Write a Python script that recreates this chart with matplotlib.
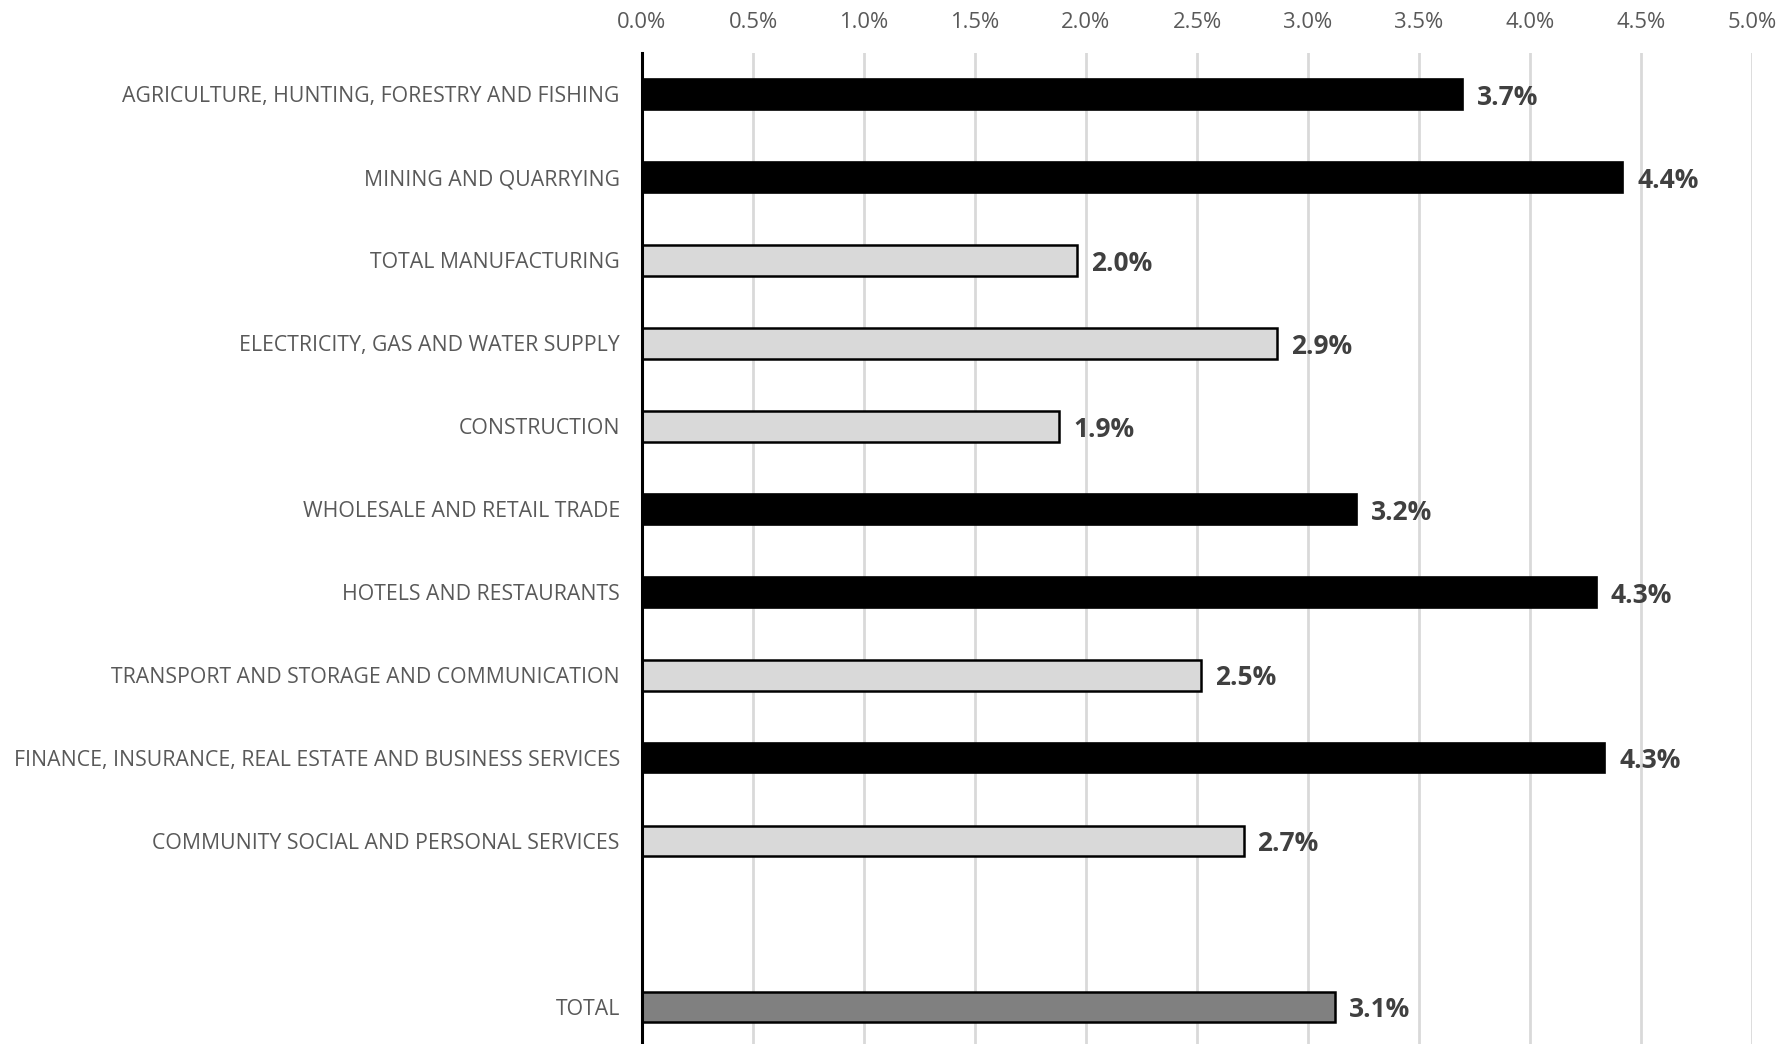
import matplotlib
matplotlib.use("Agg")
import matplotlib.pyplot as plt
from matplotlib.ticker import FuncFormatter, MultipleLocator

# Average annual growth by sector (%)
sectors = [
    "AGRICULTURE, HUNTING, FORESTRY AND FISHING",
    "MINING AND QUARRYING",
    "TOTAL MANUFACTURING",
    "ELECTRICITY, GAS AND WATER SUPPLY",
    "CONSTRUCTION",
    "WHOLESALE AND RETAIL TRADE",
    "HOTELS AND RESTAURANTS",
    "TRANSPORT AND STORAGE AND COMMUNICATION",
    "FINANCE, INSURANCE, REAL ESTATE AND BUSINESS SERVICES",
    "COMMUNITY SOCIAL AND PERSONAL SERVICES",
]
growth = [3.70, 4.42, 1.96, 2.86, 1.88, 3.22, 4.30, 2.52, 4.34, 2.71]
# "high" sectors are drawn in black, the rest in light grey
high_growth = [True, True, False, False, False, True, True, False, True, False]

total_label = "TOTAL"
total_growth = 3.12

plt.rcParams["font.family"] = ["Open Sans", "DejaVu Sans"]

fig = plt.figure(figsize=(17.92, 10.44), dpi=100)
ax = fig.add_axes([642 / 1792, 1 - 1048.5 / 1044, 1110 / 1792, 995.5 / 1044])

n = len(sectors)
ypos = list(range(n))
bar_h = 0.37

for y, v, hi in zip(ypos, growth, high_growth):
    if hi:
        ax.barh(y, v, height=bar_h, color="black", edgecolor="black", linewidth=1.2, zorder=3)
    else:
        ax.barh(y, v, height=bar_h, color="#d9d9d9", edgecolor="black", linewidth=1.8, zorder=3)

total_y = n + 1
ax.barh(total_y, total_growth, height=bar_h, color="#808080", edgecolor="black", linewidth=1.8, zorder=3)

for y, v in zip(ypos + [total_y], growth + [total_growth]):
    ax.annotate(f"{v:.1f}%", xy=(v, y), xytext=(10, -2), textcoords="offset points",
                ha="left", va="center", fontsize=19, fontweight="bold", color="#404040")

ax.set_xlim(0, 5)
ax.set_ylim(total_y + 0.5, -0.5)
ax.xaxis.set_major_locator(MultipleLocator(0.5))
ax.xaxis.set_major_formatter(FuncFormatter(lambda x, _: f"{x:.1f}%"))
ax.xaxis.tick_top()
ax.tick_params(axis="x", length=0, pad=14.5, labelsize=15.8, labelcolor="#595959")

ax.set_yticks(ypos + [total_y])
ax.set_yticklabels(sectors + [total_label])
ax.tick_params(axis="y", length=0, pad=16, labelsize=15.3, labelcolor="#595959")

ax.grid(axis="x", color="#d9d9d9", linewidth=2, zorder=0)
ax.set_axisbelow(True)
for side in ["top", "right", "bottom"]:
    ax.spines[side].set_visible(False)
ax.spines["left"].set_linewidth(2.2)
ax.spines["left"].set_color("black")
ax.spines["left"].set_zorder(4)

fig.savefig("out.png", dpi=100)
